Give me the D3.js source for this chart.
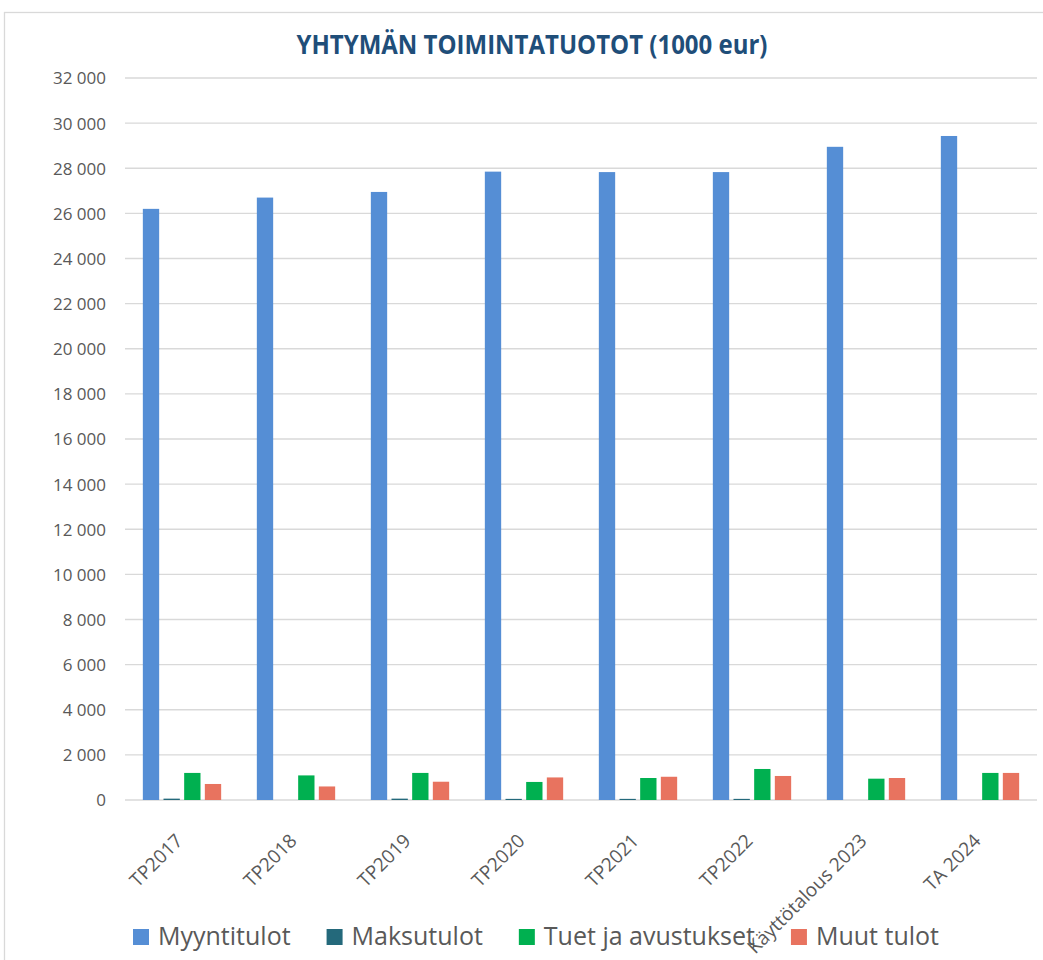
<!DOCTYPE html>
<html>
<head>
<meta charset="utf-8">
<script src="https://cdn.jsdelivr.net/npm/d3@7"></script>
<style>
  html, body { margin: 0; padding: 0; background: #fff; }
  svg { display: block; }
</style>
</head>
<body>
<svg id="chart" width="1043" height="960"></svg>
<script>
const categories = ["TP2017", "TP2018", "TP2019", "TP2020", "TP2021", "TP2022", "Käyttötalous 2023", "TA 2024"];
const seriesNames = ["Myyntitulot", "Maksutulot", "Tuet ja avustukset", "Muut tulot"];
const myyntitulot = [26200, 26700, 26950, 27850, 27830, 27830, 28950, 29430];
const maksutulot  = [60, 0, 60, 50, 50, 50, 0, 0];
const tuet        = [1200, 1090, 1200, 800, 975, 1375, 945, 1200];
const muut        = [710, 600, 810, 1000, 1030, 1065, 975, 1200];
const yTicks = [0, 2000, 4000, 6000, 8000, 10000, 12000, 14000, 16000, 18000, 20000, 22000, 24000, 26000, 28000, 30000, 32000];
const colors = ["#558ED5", "#24697B", "#00B050", "#E8735F"];
const titleText = "YHTYMÄN TOIMINTATUOTOT (1000 eur)";

const seriesValues = [myyntitulot, maksutulot, tuet, muut];
const svg = d3.select("#chart");
const textColor = "#595959";
const gridColor = "#D9D9D9";

// chart area border
svg.append("rect")
  .attr("x", 4.5).attr("y", 12.5)
  .attr("width", 1060).attr("height", 1000)
  .attr("fill", "#fff").attr("stroke", gridColor).attr("stroke-width", 1.3);

// title
svg.append("text")
  .attr("x", 532).attr("y", 54)
  .attr("text-anchor", "middle")
  .attr("font-family", "'Open Sans', sans-serif")
  .attr("font-weight", "bold")
  .attr("font-size", 27)
  .attr("fill", "#1F4E79")
  .attr("textLength", 471)
  .attr("lengthAdjust", "spacingAndGlyphs")
  .text(titleText);

const plotLeft = 125, plotRight = 1037, plotTop = 78, plotBottom = 800;

const y = d3.scaleLinear().domain([0, 32000]).range([plotBottom, plotTop]);
const x0 = d3.scaleBand().domain(categories).range([plotLeft, plotRight])
  .paddingInner(0.313).paddingOuter(0.1565);
const x1 = d3.scaleBand().domain(seriesNames).range([0, x0.bandwidth()])
  .paddingInner(0.21).paddingOuter(0);

// gridlines
const fmt = v => d3.format(",")(v).replace(/,/g, " ");
svg.append("g").selectAll("line").data(yTicks).join("line")
  .attr("x1", plotLeft).attr("x2", plotRight)
  .attr("y1", d => y(d)).attr("y2", d => y(d))
  .attr("stroke", gridColor).attr("stroke-width", 1.3);

// y labels via axis
const yAxis = d3.axisLeft(y).tickValues(yTicks).tickFormat(fmt).tickSize(0).tickPadding(0);
const yg = svg.append("g").attr("transform", `translate(${plotLeft - 19},0)`).call(yAxis);
yg.select(".domain").remove();
yg.selectAll("text")
  .attr("font-family", "'Open Sans', sans-serif")
  .attr("font-size", 17)
  .attr("fill", textColor)
  .attr("dy", "0.35em");

// bars
const groups = svg.append("g").selectAll("g").data(categories).join("g")
  .attr("transform", d => `translate(${x0(d)},0)`);
groups.selectAll("rect")
  .data((c, i) => seriesNames.map((s, j) => ({ s, v: seriesValues[j][i], j })))
  .join("rect")
  .attr("x", d => x1(d.s))
  .attr("width", x1.bandwidth())
  .attr("y", d => y(d.v))
  .attr("height", d => y(0) - y(d.v))
  .attr("fill", d => colors[d.j]);

// x labels
const xg = svg.append("g");
xg.selectAll("text").data(categories).join("text")
  .attr("transform", d => `translate(${x0(d) + x0.bandwidth() / 2 + 2},842) rotate(-45)`)
  .attr("text-anchor", "end")
  .attr("font-family", "'Open Sans', sans-serif")
  .attr("font-size", 19)
  .attr("fill", textColor)
  .text(d => d);

// legend
const legend = svg.append("g");
const items = legend.selectAll("g").data(seriesNames).join("g");
items.append("rect")
  .attr("width", 16).attr("height", 16)
  .attr("y", 929)
  .attr("fill", (d, i) => colors[i]);
items.append("text")
  .attr("x", 25).attr("y", 945)
  .attr("font-family", "'Open Sans', sans-serif")
  .attr("font-size", 25)
  .attr("fill", textColor)
  .text(d => d);
const widths = [];
items.each(function () { widths.push(25 + this.querySelector("text").getComputedTextLength()); });
const legendStart = 133, legendEnd = 939;
const gap = (legendEnd - legendStart - d3.sum(widths)) / (seriesNames.length - 1);
let cx = legendStart;
items.each(function (d, i) {
  d3.select(this).attr("transform", `translate(${cx},0)`);
  cx += widths[i] + gap;
});
</script>
</body>
</html>
